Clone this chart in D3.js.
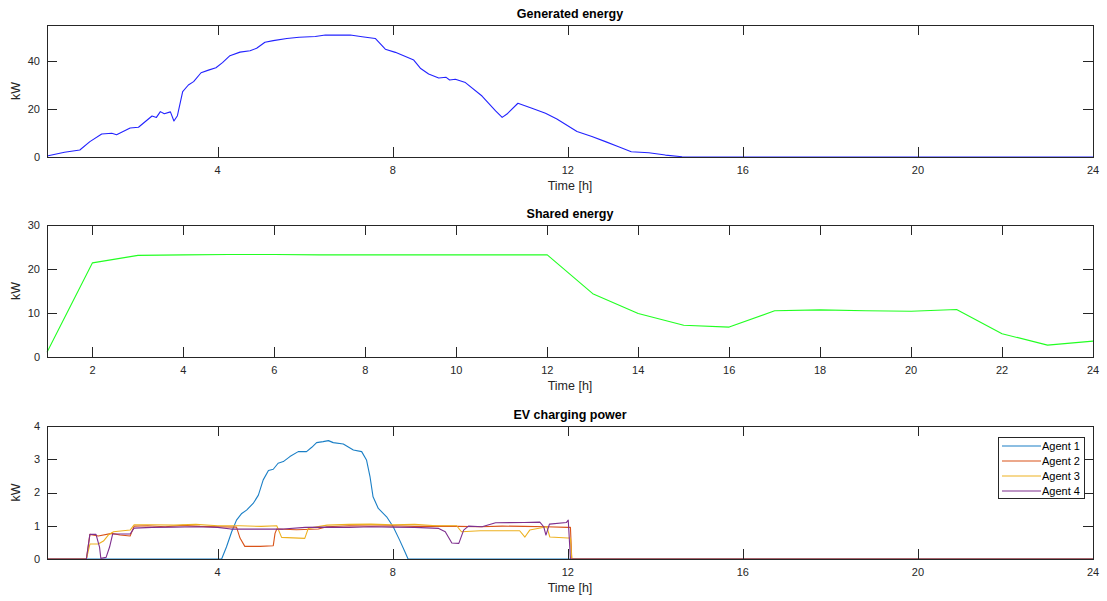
<!DOCTYPE html>
<html>
<head>
<meta charset="utf-8">
<script src="https://cdn.jsdelivr.net/npm/d3@7"></script>
<style>
  html, body { margin: 0; padding: 0; background: #fff; }
  svg { display: block; font-family: "Liberation Sans", Arial, Helvetica, sans-serif; }
</style>
</head>
<body>
<svg id="fig" width="1107" height="601"></svg>
<script>
// ---------- Generated PV energy (kW) over the day ----------
const genHours = [0.1, 0.5, 0.85, 1.08, 1.35, 1.58, 1.69, 2.0, 2.19, 2.5, 2.6, 2.69, 2.78, 2.92, 3.0, 3.08,
  3.2, 3.33, 3.45, 3.62, 3.79, 3.96, 4.11, 4.28, 4.51, 4.74, 4.89, 5.08, 5.27, 5.58, 5.86, 6.23, 6.46,
  7.03, 7.3, 7.6, 7.83, 8.06, 8.48, 8.63, 8.82, 9.05, 9.22, 9.3, 9.43, 9.66, 10.04, 10.35, 10.5, 10.61,
  10.86, 11.18, 11.49, 11.75, 12.21, 12.55, 12.86, 13.16, 13.45, 13.85, 14.23, 14.61, 15.0, 24.0];
const genKW = [0.4, 2.0, 2.9, 6.4, 9.6, 9.9, 9.3, 12.1, 12.4, 17.1, 16.5, 18.9, 18.0, 18.8, 15.0, 17.2,
  27.2, 30.0, 31.4, 35.1, 36.2, 37.2, 39.3, 42.2, 43.7, 44.3, 45.3, 47.8, 48.5, 49.4, 49.9, 50.2, 50.8,
  50.8, 50.1, 49.4, 44.9, 43.6, 40.4, 37.0, 34.6, 32.9, 33.2, 32.1, 32.4, 31.0, 25.4, 19.2, 16.5, 17.9,
  22.4, 20.3, 18.2, 15.8, 10.6, 8.5, 6.4, 4.3, 2.2, 1.8, 0.8, 0.1, 0.0, 0.0];

// ---------- Shared energy, hourly ----------
const sharedHours = d3.range(1, 25);
const sharedKW = [1.1, 21.4, 23.1, 23.2, 23.3, 23.3, 23.2, 23.2, 23.2, 23.2, 23.2, 23.2,
  14.4, 9.9, 7.2, 6.8, 10.5, 10.7, 10.5, 10.4, 10.8, 5.3, 2.7, 3.6];

// ---------- EV charging power per agent ----------
const agentNames = ["Agent 1", "Agent 2", "Agent 3", "Agent 4"];
const agentColors = ["#1a7fc6", "#D95319", "#EDB120", "#7E2F8E"];

const agent1Hours = [0.1, 4.09, 4.2, 4.32, 4.43, 4.55, 4.66, 4.81, 4.93, 5.04, 5.16, 5.27, 5.38, 5.5, 5.65,
  5.84, 6.03, 6.15, 6.26, 6.41, 6.53, 6.64, 6.87, 7.1, 7.29, 7.4, 7.48, 7.55, 7.67, 7.86, 8.01, 8.16,
  8.28, 8.35, 24.0];
const agent1KW = [0, 0, 0.36, 0.82, 1.17, 1.37, 1.47, 1.67, 1.92, 2.38, 2.66, 2.7, 2.88, 2.93, 3.08,
  3.23, 3.23, 3.36, 3.5, 3.53, 3.56, 3.5, 3.46, 3.28, 3.23, 2.98, 2.48, 1.87, 1.52, 1.27, 0.97, 0.56,
  0.21, 0, 0];

const agent2Hours = [0.1, 1.0, 1.08, 1.27, 1.58, 1.77, 2.0, 2.09, 2.4, 2.8, 3.2, 3.6, 4.0, 4.43, 4.51, 4.62,
  4.89, 4.97, 5.27, 5.31, 5.35, 5.8, 6.3, 6.5, 7.0, 7.5, 8.0, 8.5, 9.0, 9.5, 10.0, 10.5, 11.0, 11.5,
  12.0, 12.06, 12.09, 24.0];
const agent2KW = [0, 0, 0.74, 0.69, 0.77, 0.72, 0.69, 0.99, 1.0, 0.97, 1.01, 0.98, 0.97, 0.96, 0.63, 0.38,
  0.38, 0.38, 0.4, 0.77, 0.9, 0.88, 0.9, 0.97, 1.0, 0.99, 1.0, 0.98, 0.99, 0.98, 0.97, 0.99, 0.98, 0.97,
  0.95, 0.95, 0, 0];

const agent3Hours = [0.1, 1.0, 1.08, 1.27, 1.39, 1.5, 1.62, 2.0, 2.09, 2.5, 3.0, 3.5, 4.0, 4.5, 5.0, 5.35,
  5.46, 5.99, 6.07, 6.5, 7.0, 7.5, 8.0, 8.5, 9.0, 9.46, 9.57, 10.0, 10.5, 10.9, 11.02, 11.13, 11.52,
  11.59, 12.0, 12.06, 12.09, 24.0];
const agent3KW = [0, 0, 0.45, 0.45, 0.54, 0.72, 0.82, 0.87, 1.03, 1.03, 1.02, 1.04, 1.0, 1.0, 0.98, 1.0,
  0.65, 0.62, 0.92, 1.02, 1.04, 1.05, 1.03, 1.04, 1.0, 1.0, 0.82, 0.85, 0.85, 0.85, 0.66, 0.87, 0.97,
  0.66, 0.63, 0.63, 0, 0];

const agent4Hours = [0.1, 1.0, 1.08, 1.22, 1.3, 1.33, 1.45, 1.53, 1.6, 2.0, 2.09, 2.5, 3.0, 3.5, 4.0, 4.3,
  5.0, 5.5, 6.0, 6.5, 7.0, 7.5, 8.0, 8.5, 9.05, 9.2, 9.35, 9.51, 9.62, 9.73, 10.04, 10.35, 11.0, 11.36,
  11.45, 11.5, 11.58, 11.97, 12.01, 12.06, 24.0];
const agent4KW = [0, 0, 0.74, 0.74, 0.36, 0.02, 0.05, 0.36, 0.75, 0.75, 0.93, 0.95, 0.96, 0.97, 0.95, 0.9,
  0.9, 0.9, 0.95, 0.96, 0.95, 0.97, 0.96, 0.95, 0.92, 0.82, 0.48, 0.47, 0.87, 0.99, 0.97, 1.09, 1.1, 1.11,
  0.97, 0.72, 1.05, 1.1, 1.17, 0, 0];

const agentHours = [agent1Hours, agent2Hours, agent3Hours, agent4Hours];
const agentKW = [agent1KW, agent2KW, agent3KW, agent4KW];

// ---------- Axis ticks ----------
const dayTicks = [4, 8, 12, 16, 20, 24];
const sharedXTicks = [2, 4, 6, 8, 10, 12, 14, 16, 18, 20, 22, 24];
const genYTicks = [0, 20, 40];
const sharedYTicks = [0, 10, 20, 30];
const evYTicks = [0, 1, 2, 3, 4];

// ---------- Layout ----------
const svg = d3.select("#fig");
const L = 47, R = 1093;
const axisColor = "#262626";

function panel(cfg) {
  const x = d3.scaleLinear().domain(cfg.xDomain).range([L, R]);
  const y = d3.scaleLinear().domain(cfg.yDomain).range([cfg.bottom, cfg.top]);
  const g = svg.append("g");
  const tl = 10;

  // plot lines first, axes box over them
  const lines = g.append("g");

  // box
  g.append("rect").attr("x", L).attr("y", cfg.top).attr("width", R - L).attr("height", cfg.bottom - cfg.top)
    .attr("fill", "none").attr("stroke", axisColor).attr("stroke-width", 1).attr("shape-rendering", "crispEdges");

  // x ticks (inward, bottom and top)
  cfg.xTicks.forEach(t => {
    const px = Math.round(x(t)) + 0.5;
    g.append("line").attr("x1", px).attr("x2", px).attr("y1", cfg.bottom).attr("y2", cfg.bottom - tl)
      .attr("stroke", axisColor);
    g.append("line").attr("x1", px).attr("x2", px).attr("y1", cfg.top).attr("y2", cfg.top + tl)
      .attr("stroke", axisColor);
    g.append("text").attr("x", x(t)).attr("y", cfg.bottom + 17).attr("text-anchor", "middle")
      .attr("font-size", 11).attr("fill", axisColor).text(t);
  });
  // y ticks (inward, left and right)
  cfg.yTicks.forEach(t => {
    const py = Math.round(y(t)) + 0.5;
    g.append("line").attr("x1", L).attr("x2", L + tl).attr("y1", py).attr("y2", py).attr("stroke", axisColor);
    g.append("line").attr("x1", R).attr("x2", R - tl).attr("y1", py).attr("y2", py).attr("stroke", axisColor);
    g.append("text").attr("x", L - 7).attr("y", y(t)).attr("dy", "0.35em").attr("text-anchor", "end")
      .attr("font-size", 11).attr("fill", axisColor).text(t);
  });

  // labels
  g.append("text").attr("x", (L + R) / 2).attr("y", cfg.bottom + 33).attr("text-anchor", "middle")
    .attr("font-size", 12.5).attr("fill", axisColor).text("Time [h]");
  g.append("text").attr("transform", `translate(${20},${(cfg.top + cfg.bottom) / 2}) rotate(-90)`)
    .attr("text-anchor", "middle").attr("font-size", 12.5).attr("fill", axisColor).text("kW");
  g.append("text").attr("x", (L + R) / 2).attr("y", cfg.top - 7).attr("text-anchor", "middle")
    .attr("font-size", 12.5).attr("font-weight", "bold").attr("fill", "#000").text(cfg.title);

  const line = d3.line().x(d => x(d[0])).y(d => y(d[1]));
  cfg.series.forEach(s => {
    lines.append("path").datum(d3.zip(s.xs, s.ys)).attr("d", line)
      .attr("fill", "none").attr("stroke", s.color).attr("stroke-width", 1.1)
      .attr("stroke-linejoin", "round");
  });
  return { x, y, g };
}

panel({
  title: "Generated energy", top: 25, bottom: 157,
  xDomain: [0.1, 24], yDomain: [0, 55], xTicks: dayTicks, yTicks: genYTicks,
  series: [{ xs: genHours, ys: genKW, color: "#2222ff" }]
});

panel({
  title: "Shared energy", top: 225, bottom: 357,
  xDomain: [1, 24], yDomain: [0, 30], xTicks: sharedXTicks, yTicks: sharedYTicks,
  series: [{ xs: sharedHours, ys: sharedKW, color: "#22ff22" }]
});

const ev = panel({
  title: "EV charging power", top: 426, bottom: 559,
  xDomain: [0.1, 24], yDomain: [0, 4], xTicks: dayTicks, yTicks: evYTicks,
  series: agentNames.map((n, i) => ({ xs: agentHours[i], ys: agentKW[i], color: agentColors[i] }))
});

// legend
const lg = ev.g.append("g");
const lx = 998, ly = 437, lw = 86, lh = 61;
lg.append("rect").attr("x", lx + 0.5).attr("y", ly + 0.5).attr("width", lw).attr("height", lh)
  .attr("fill", "#fff").attr("stroke", axisColor).attr("stroke-width", 1);
agentNames.forEach((n, i) => {
  const yy = ly + 9 + i * 15;
  lg.append("line").attr("x1", lx + 4).attr("x2", lx + 43).attr("y1", yy).attr("y2", yy)
    .attr("stroke", agentColors[i]).attr("stroke-width", 1.1);
  lg.append("text").attr("x", lx + 44).attr("y", yy).attr("dy", "0.35em").attr("font-size", 11)
    .attr("fill", "#000").text(n);
});
</script>
</body>
</html>
